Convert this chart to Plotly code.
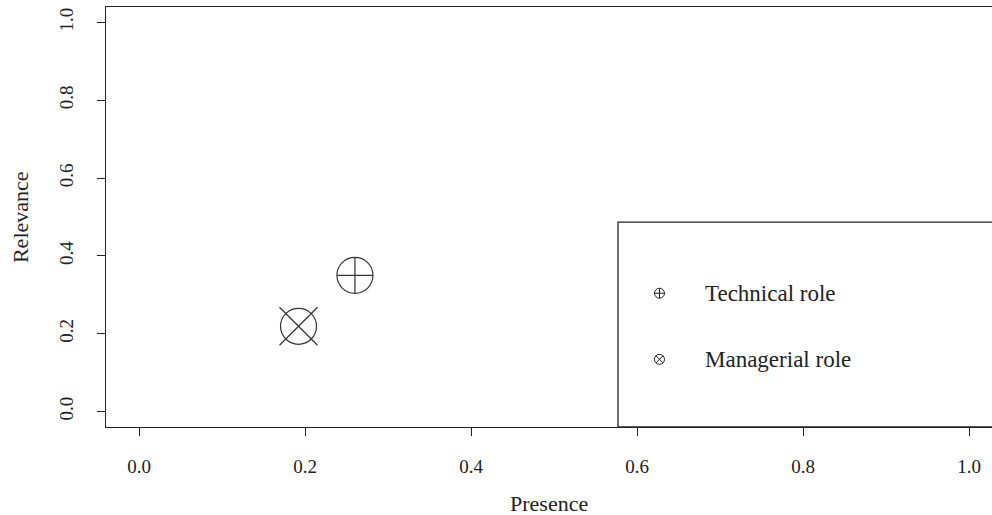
import plotly.graph_objects as go

# Data
roles = ["Technical role", "Managerial role"]
presence = [0.260, 0.192]
relevance = [0.350, 0.219]
tick_vals = [0.0, 0.2, 0.4, 0.6, 0.8, 1.0]
tick_text = ["0.0", "0.2", "0.4", "0.6", "0.8", "1.0"]

FONT = "Liberation Serif"
INK = "#222222"
MK = "#333333"

fig = go.Figure()

# Technical role: circle with plus
fig.add_trace(go.Scatter(
    x=[presence[0]], y=[relevance[0]], mode="markers",
    marker=dict(symbol="circle-cross-open", size=36, color=MK,
                line=dict(color=MK, width=1.2)),
    showlegend=False, name=roles[0]))

# Managerial role: circle with X extending to the bounding square
fig.add_trace(go.Scatter(
    x=[presence[1]], y=[relevance[1]], mode="markers",
    marker=dict(symbol="circle-open", size=36, color=MK,
                line=dict(color=MK, width=1.2)),
    showlegend=False, name=roles[1]))
fig.add_trace(go.Scatter(
    x=[presence[1]], y=[relevance[1]], mode="markers",
    marker=dict(symbol="x-thin-open", size=38, color=MK,
                line=dict(color=MK, width=1.2)),
    showlegend=False, hoverinfo="skip"))

# Hand-drawn legend box (as in the R figure)
leg_x = 0.627
leg_text_x = 0.680
leg_y = [0.304, 0.134]
fig.add_shape(type="rect", xref="x", yref="y", x0=0.577, x1=1.2, y0=-0.04, y1=0.487,
              line=dict(color=INK, width=1.3), fillcolor="rgba(0,0,0,0)")
fig.add_trace(go.Scatter(
    x=[leg_x], y=[leg_y[0]], mode="markers",
    marker=dict(symbol="circle-cross-open", size=10, color=INK, line=dict(color=INK, width=1)),
    showlegend=False, hoverinfo="skip"))
fig.add_trace(go.Scatter(
    x=[leg_x], y=[leg_y[1]], mode="markers",
    marker=dict(symbol="circle-x-open", size=10, color=INK, line=dict(color=INK, width=1)),
    showlegend=False, hoverinfo="skip"))
for lbl, yy in zip(roles, leg_y):
    fig.add_annotation(x=leg_text_x, y=yy, xref="x", yref="y", text=lbl,
                       showarrow=False, xanchor="left", yanchor="middle",
                       font=dict(family=FONT, size=23, color=INK))

# Axis titles
fig.add_annotation(x=0.5, y=-0.181, xref="paper", yref="paper", text="Presence",
                   showarrow=False, xanchor="center", yanchor="middle",
                   font=dict(family=FONT, size=22, color=INK))
fig.add_annotation(x=-0.097, y=0.5, xref="paper", yref="paper", text="Relevance",
                   showarrow=False, textangle=-90, xanchor="center", yanchor="middle",
                   font=dict(family=FONT, size=22, color=INK))

x_right = (992 - 139) / 830.0

fig.update_layout(
    width=992, height=515,
    margin=dict(l=106, r=0, t=7, b=88),
    plot_bgcolor="white", paper_bgcolor="white",
    showlegend=False,
    font=dict(family=FONT, color=INK),
)
fig.update_xaxes(range=[-0.04, x_right], tickvals=tick_vals, ticktext=tick_text,
                 showgrid=False, zeroline=False, showline=True, mirror=True,
                 linecolor=INK, linewidth=1.3, ticks="outside", ticklen=8,
                 tickcolor=INK, tickfont=dict(family=FONT, size=19, color=INK),
                 ticklabelstandoff=14)
fig.update_yaxes(range=[-0.04, 1.04], tickvals=tick_vals, ticktext=tick_text,
                 showgrid=False, zeroline=False, showline=True, mirror=False,
                 linecolor=INK, linewidth=1.3, ticks="outside", ticklen=8,
                 tickcolor=INK, tickangle=-90,
                 tickfont=dict(family=FONT, size=19, color=INK),
                 ticklabelstandoff=16)

fig.write_html("out.html")
